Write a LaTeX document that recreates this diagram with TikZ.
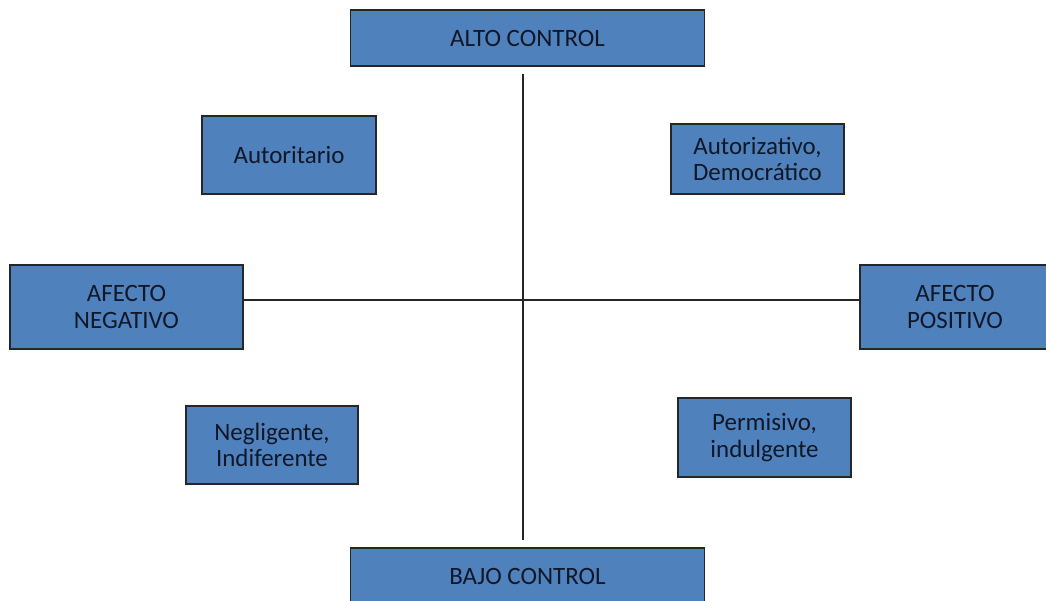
\documentclass[tikz,border=0pt]{standalone}
\usepackage{fontspec}
\setmainfont{Carlito}
\definecolor{boxblue}{HTML}{4F81BD}
\definecolor{boxtext}{HTML}{101828}
\tikzset{
  stylebox/.style={draw=black!85, fill=boxblue, line width=0.6pt, inner sep=0pt,
    align=center, text=boxtext, font=\fontsize{14.2}{15.2}\selectfont},
  axis/.style={draw=black!85, line width=0.9pt}
}
\begin{document}
\begin{tikzpicture}[x=0.02cm, y=-0.02cm]
      \clip (0,0) rectangle (1046,601);
      \fill[white] (0,0) rectangle (1046,601);
      \coordinate (c) at (523,300);
      \node[stylebox, minimum width=7.1cm, minimum height=1.12cm] (alto) at (527.5,38) {ALTO CONTROL};
      \node[stylebox, minimum width=7.1cm, minimum height=1.12cm] (bajo) at (527.5,576) {BAJO CONTROL};
      \node[stylebox, minimum width=4.66cm, minimum height=1.68cm] (neg) at (126.5,307) {AFECTO\\NEGATIVO};
      \node[stylebox, minimum width=3.8cm, minimum height=1.68cm] (pos) at (955,307) {AFECTO\\POSITIVO};
      \node[stylebox, minimum width=3.48cm, minimum height=1.56cm] (autoritario) at (289,155) {Autoritario};
      \node[stylebox, minimum width=3.46cm, minimum height=1.4cm] (autorizativo) at (757.5,159) {Autorizativo,\\Democrático};
      \node[stylebox, minimum width=3.44cm, minimum height=1.56cm] (negligente) at (272,445) {Negligente,\\Indiferente};
      \node[stylebox, minimum width=3.46cm, minimum height=1.58cm] (permisivo) at (764.5,437.5) {Permisivo,\\indulgente};
      \begin{scope}[axis]
        \draw[shorten <=0.14cm, shorten >=0.14cm] (c |- alto.south) -- (c |- bajo.north);
        \draw (neg.east |- c) -- (pos.west |- c);
      \end{scope}
    \end{tikzpicture}
\end{document}
